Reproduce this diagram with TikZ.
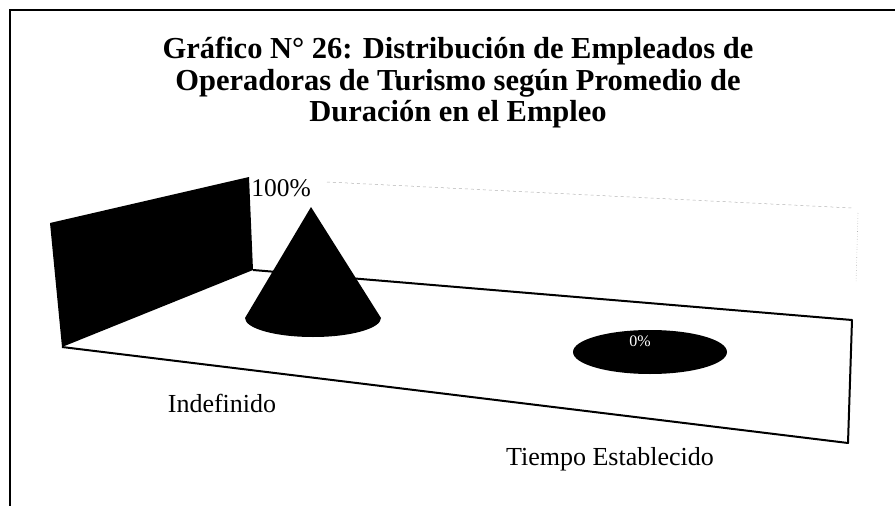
\documentclass[tikz,border=0pt]{standalone}
\usepackage{fontspec}
\setmainfont{Liberation Serif}
\usepackage{tikz}
\usetikzlibrary{positioning}

\begin{document}
\begin{tikzpicture}[x=1pt,y=-1pt]
        \useasboundingbox (0,0) rectangle (895,506);

        % Frame
        \draw[line width=1.8pt] (10,506) -- (10,10) -- (895,10);

        % Title
        \node[align=center, font=\bfseries\fontsize{30.5}{31.5}\selectfont] (title) at (458,83)
            {Gráfico N° 26: Distribución de Empleados de\\
             Operadoras de Turismo según Promedio de\\
             Duración en el Empleo};

        % Gridlines (faint)
        \draw[gray!60, dashed, line width=0.5pt] (327,182) -- (852,208);
        \draw[gray!60, dotted, line width=0.6pt] (858,213) -- (856,283);

        % Back wall
        \fill[black] (50,223) -- (249,177) -- (253,270) -- (62,347) -- cycle;

        % Floor
        \draw[line width=2pt, line join=round] (253,270) -- (852,320) -- (848,443) -- (62,347);

        % Cone (Indefinido)
        \fill[black] (311,207) -- (245,318) arc[start angle=180, end angle=0, x radius=68, y radius=19] -- cycle;
        \node[font=\fontsize{25.5}{28}\selectfont] (lblA) at (281,188) {100\%};

        % Flat disc (Tiempo Establecido)
        \fill[black] (650,352) ellipse[x radius=77, y radius=22];
        \node[white, font=\fontsize{16}{18}\selectfont] (lblB) at (640,341) {0\%};

        % Category labels
        \node[font=\fontsize{26}{28}\selectfont] (catA) at (222,403) {Indefinido};
        \node[font=\fontsize{26}{28}\selectfont] (catB) at (610,459) {Tiempo Establecido};
    \end{tikzpicture}
\end{document}
